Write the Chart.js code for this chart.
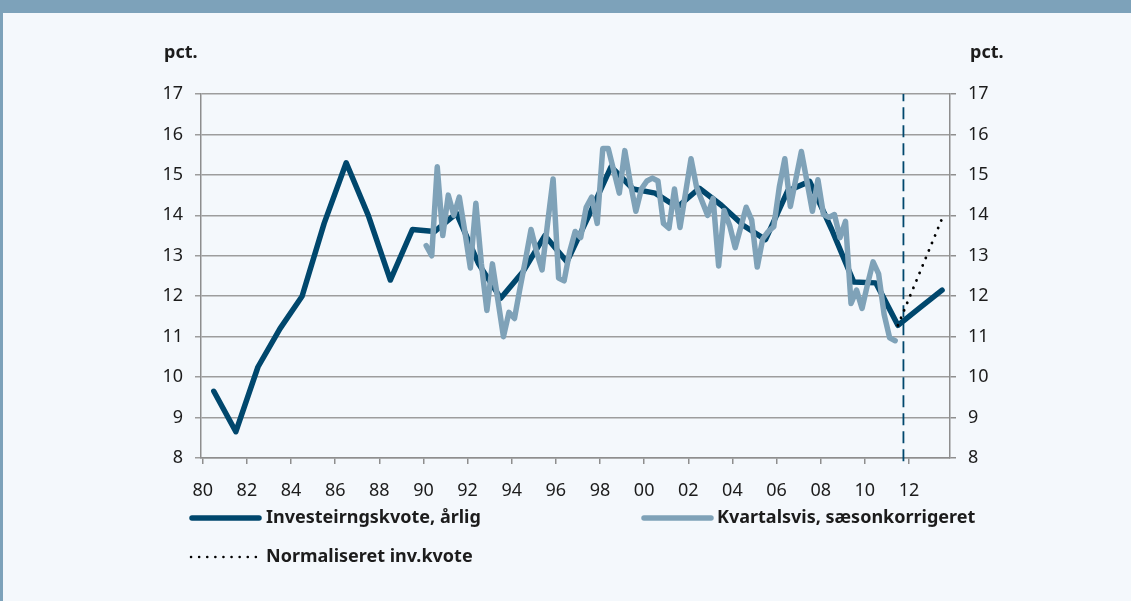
<!DOCTYPE html>
<html>
<head>
<meta charset="utf-8">
<script src="https://cdn.jsdelivr.net/npm/chart.js@4.4.0/dist/chart.umd.min.js"></script>
<style>
  html, body { margin: 0; padding: 0; background: #f4f8fc; }
  #wrap { width: 1131px; height: 601px; }
</style>
</head>
<body>
<div id="wrap"><canvas id="invChart" width="1131" height="601"></canvas></div>
<script>
// Investeringskvote: annual series, quarterly seasonally adjusted series and normalised ratio

// Annual values, plotted at mid-year
const annualYears = [1980, 1981, 1982, 1983, 1984, 1985, 1986, 1987, 1988, 1989,
    1990, 1991, 1992, 1993, 1994, 1995, 1996, 1997, 1998, 1999,
    2000, 2001, 2002, 2003, 2004, 2005, 2006, 2007, 2008, 2009,
    2010, 2011, 2012, 2013];
const annualValues = [9.65, 8.65, 10.25, 11.2, 12.0, 13.8, 15.3, 14.0, 12.4, 13.65,
    13.6, 14.05, 12.8, 11.95, 12.6, 13.5, 12.85, 14.0, 15.2, 14.65,
    14.55, 14.2, 14.67, 14.25, 13.75, 13.4, 14.6, 14.84, 13.65, 12.35,
    12.33, 11.28, 11.72, 12.15];

// Quarterly, 1990Q1 - 2011Q2
const quarterlyStartYear = 1990;
const quarterlyValues = [
    13.25, 13.0, 15.2, 13.5,    14.5, 14.0, 14.45, 13.6,    12.7, 14.3, 12.8, 11.65,
    12.8, 11.9, 11.0, 11.6,     11.45, 12.2, 12.9, 13.65,   13.1, 12.65, 13.8, 14.9,
    12.45, 12.38, 13.1, 13.6,   13.45, 14.2, 14.45, 13.8,   15.65, 15.65, 15.1, 14.55,
    15.6, 14.8, 14.1, 14.65,    14.85, 14.92, 14.85, 13.8,  13.68, 14.65, 13.7, 14.55,
    15.4, 14.7, 14.35, 14.0,    14.42, 12.75, 14.12, 13.75, 13.2, 13.7, 14.2, 13.88,
    12.72, 13.42, 13.6, 13.72,  14.7, 15.4, 14.22, 14.9,    15.58, 14.85, 14.1, 14.88,
    14.02, 13.95, 14.02, 13.45, 13.85, 11.82, 12.15, 11.7,  12.3, 12.85, 12.55, 11.55,
    10.97, 10.9
];

// Normalised investment ratio (forecast)
const normYears = [2011, 2012, 2013];
const normValues = [11.28, 12.6, 13.92];

// Forecast divider
const dividerYear = 2011.75;

const xTickYears = [1980, 1982, 1984, 1986, 1988, 1990, 1992, 1994, 1996, 1998,
    2000, 2002, 2004, 2006, 2008, 2010, 2012];

const DARK = '#00476d';
const LIGHT = '#7fa2b8';
const GRID = '#9d9d9d';
const AXIS = '#8e8e8e';
const TEXT = '#1c1c1c';
const FONT = "'Noto Sans', sans-serif";

const annualData = annualYears.map((y, i) => ({ x: y + 0.5, y: annualValues[i] }));
const quarterlyData = quarterlyValues.map((v, i) => ({ x: quarterlyStartYear + (i + 0.5) / 4, y: v }));
const normData = normYears.map((y, i) => ({ x: y + 0.5, y: normValues[i] }));

// Background, frame, "pct." labels and the custom legend
const decorPlugin = {
    id: 'decor',
    beforeDraw(chart) {
        const { ctx, width, height } = chart;
        ctx.save();
        ctx.fillStyle = '#f4f8fc';
        ctx.fillRect(0, 0, width, height);
        ctx.fillStyle = '#7da2ba';
        ctx.fillRect(0, 0, width, 13);
        ctx.fillRect(0, 0, 3, height);
        ctx.restore();
    },
    afterDraw(chart) {
        const { ctx } = chart;
        ctx.save();
        ctx.fillStyle = TEXT;
        ctx.textBaseline = 'middle';
        ctx.font = 'bold 18px ' + FONT;
        ctx.textAlign = 'left';
        ctx.fillText('pct.', 164, 53);
        ctx.fillText('pct.', 970, 53);

        ctx.lineCap = 'round';
        // annual
        ctx.strokeStyle = DARK;
        ctx.lineWidth = 5.5;
        ctx.beginPath(); ctx.moveTo(192, 518); ctx.lineTo(259, 518); ctx.stroke();
        // quarterly
        ctx.strokeStyle = LIGHT;
        ctx.lineWidth = 5.5;
        ctx.beginPath(); ctx.moveTo(644, 518); ctx.lineTo(711, 518); ctx.stroke();
        // normalised
        ctx.strokeStyle = '#000';
        ctx.lineWidth = 2.5;
        ctx.setLineDash([0.1, 8]);
        ctx.beginPath(); ctx.moveTo(191, 557); ctx.lineTo(256, 557); ctx.stroke();
        ctx.setLineDash([]);

        ctx.font = 'bold 18px ' + FONT;
        ctx.fillText('Investeirngskvote, årlig', 266, 518);
        ctx.fillText('Kvartalsvis, sæsonkorrigeret', 717, 518);
        ctx.fillText('Normaliseret inv.kvote', 266, 557);
        ctx.restore();
    }
};

const tickFont = { family: FONT, size: 18 };

new Chart(document.getElementById('invChart'), {
    type: 'line',
    data: {
        datasets: [
            {
                label: 'Normaliseret inv.kvote',
                data: normData,
                borderColor: '#000',
                borderWidth: 2.8,
                borderDash: [0.1, 8],
                borderCapStyle: 'round',
                pointRadius: 0,
                order: 0
            },
            {
                label: 'Kvartalsvis, sæsonkorrigeret',
                data: quarterlyData,
                borderColor: LIGHT,
                borderWidth: 5.5,
                borderCapStyle: 'round',
                borderJoinStyle: 'round',
                pointRadius: 0,
                order: 1
            },
            {
                label: 'Investeirngskvote, årlig',
                data: annualData,
                borderColor: DARK,
                borderWidth: 5.5,
                borderCapStyle: 'round',
                borderJoinStyle: 'round',
                pointRadius: 0,
                order: 2
            },
            {
                label: 'divider',
                data: [{ x: dividerYear, y: 7.92 }, { x: dividerYear, y: 17 }],
                borderColor: DARK,
                borderWidth: 1.8,
                borderDash: [12, 6],
                pointRadius: 0,
                clip: false,
                order: 3
            }
        ]
    },
    options: {
        responsive: false,
        animation: false,
        events: [],
        layout: { padding: { top: 94, left: 0, right: 0, bottom: 0 } },
        plugins: {
            legend: { display: false },
            tooltip: { enabled: false }
        },
        scales: {
            x: {
                type: 'linear',
                min: 1979.92,
                max: 2013.86,
                afterFit(scale) { scale.height = 143; },
                afterBuildTicks(scale) { scale.ticks = xTickYears.map(v => ({ value: v })); },
                ticks: {
                    font: tickFont,
                    color: TEXT,
                    padding: 16,
                    maxRotation: 0,
                    autoSkip: false,
                    callback: v => String(v).slice(2)
                },
                grid: { drawOnChartArea: false, drawTicks: true, tickLength: 6, color: AXIS, lineWidth: 1.5 },
                border: { display: true, color: AXIS, width: 1.5 }
            },
            y: {
                position: 'left',
                min: 8,
                max: 17,
                afterFit(scale) { scale.width = 201; },
                ticks: { stepSize: 1, font: tickFont, color: TEXT, padding: 12 },
                grid: { color: GRID, lineWidth: 1.5, tickLength: 6 },
                border: { display: true, color: AXIS, width: 1.5 }
            },
            y2: {
                position: 'right',
                min: 8,
                max: 17,
                afterFit(scale) { scale.width = 181; },
                ticks: { stepSize: 1, font: tickFont, color: TEXT, padding: 12 },
                grid: { drawOnChartArea: false, color: AXIS, lineWidth: 1.5, tickLength: 6 },
                border: { display: true, color: AXIS, width: 1.5 }
            }
        }
    },
    plugins: [decorPlugin]
});
</script>
</body>
</html>
